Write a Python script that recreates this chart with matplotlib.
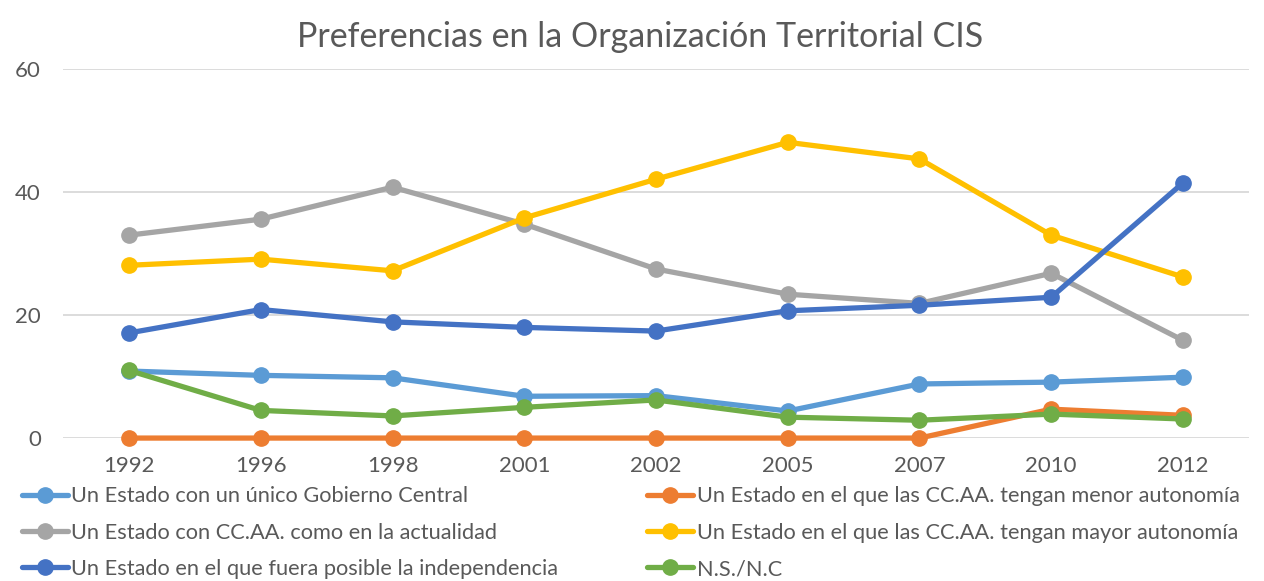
import matplotlib
matplotlib.use("Agg")
import matplotlib.pyplot as plt

years = ["1992", "1996", "1998", "2001", "2002", "2005", "2007", "2010", "2012"]
unico = [10.9, 10.2, 9.8, 6.8, 6.9, 4.4, 8.8, 9.1, 9.9]
menor = [0, 0, 0, 0, 0, 0, 0, 4.7, 3.7]
actual = [33.0, 35.6, 40.8, 34.8, 27.5, 23.4, 21.9, 26.8, 15.9]
mayor = [28.1, 29.1, 27.2, 35.8, 42.1, 48.1, 45.4, 33.0, 26.2]
indep = [17.1, 20.9, 18.9, 18.0, 17.4, 20.7, 21.6, 22.9, 41.5]
nsnc = [11.0, 4.5, 3.6, 5.0, 6.2, 3.4, 2.9, 3.9, 3.1]

labels = [
    "Un Estado con un único Gobierno Central",
    "Un Estado en el que las CC.AA. tengan menor autonomía",
    "Un Estado con CC.AA. como en la actualidad",
    "Un Estado en el que las CC.AA. tengan mayor autonomía",
    "Un Estado en el que fuera posible la independencia",
    "N.S./N.C",
]
series = [unico, menor, actual, mayor, indep, nsnc]
colors = ["#5B9BD5", "#ED7D31", "#A5A5A5", "#FFC000", "#4472C4", "#70AD47"]

plt.rcParams["font.family"] = ["Lato", "DejaVu Sans"]
txt = "#595959"

fig = plt.figure(figsize=(12.64, 5.81), dpi=100)
ax = fig.add_axes([0.05, 0.246, 0.938, 0.635])
x = list(range(len(years)))
handles = []
for s, c, l in zip(series, colors, labels):
    h, = ax.plot(x, s, color=c, lw=3.8, marker="o", ms=11, label=l,
                 solid_joinstyle="round", solid_capstyle="round", clip_on=False)
    handles.append(h)

ax.set_xlim(-0.5, len(years) - 0.5)
ax.set_ylim(0, 60)
ax.set_yticks([0, 20, 40, 60])
ax.set_xticks(x)
ax.set_xticklabels(years)
ax.tick_params(axis="both", length=0, labelsize=16, colors=txt)
ax.tick_params(axis="y", pad=16)
ax.tick_params(axis="x", pad=13)
ax.grid(axis="y", color="#D9D9D9", lw=1.3)
ax.set_axisbelow(True)
for sp in ax.spines.values():
    sp.set_visible(False)

fig.suptitle("Preferencias en la Organización Territorial CIS", x=0.506, y=0.963,
             va="top", fontsize=24.5, color=txt)

order = [0, 2, 4, 1, 3, 5]
leg = fig.legend([handles[i] for i in order], [labels[i] for i in order],
                 loc="upper left", bbox_to_anchor=(0.0174, 0.163),
                 ncol=2, frameon=False, fontsize=15.7, labelcolor=txt,
                 handlelength=2.1, handletextpad=0.15, columnspacing=4.1,
                 labelspacing=0.75, borderaxespad=0, borderpad=0)

fig.savefig("out.png", dpi=100)
